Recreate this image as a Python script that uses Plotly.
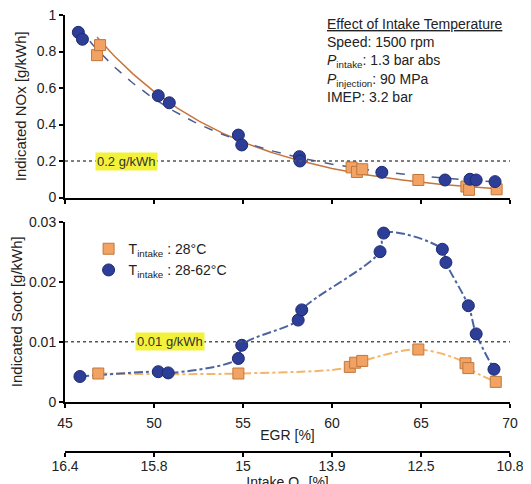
import numpy as np
import plotly.graph_objects as go

# ---------------- data ----------------
egr_ticks = [45, 50, 55, 60, 65, 70]
o2_ticklabels = ["16.4", "15.8", "15", "13.9", "12.5", "10.8"]

nox_egr_28 = [46.80, 46.97, 61.10, 61.40, 61.70, 64.85, 67.55, 67.70, 69.25]
nox_28 = [0.780, 0.835, 0.165, 0.140, 0.155, 0.096, 0.060, 0.042, 0.045]

nox_egr_var = [45.75, 45.98, 50.24, 50.86, 54.74, 54.93, 58.17, 58.20, 62.80, 66.35, 67.75, 68.10, 69.16]
nox_var = [0.905, 0.867, 0.558, 0.519, 0.342, 0.288, 0.224, 0.200, 0.138, 0.096, 0.100, 0.096, 0.087]

soot_egr_28 = [46.87, 54.74, 61.00, 61.30, 61.70, 64.85, 67.50, 67.66, 69.20]
soot_28 = [0.0047, 0.0047, 0.0058, 0.0065, 0.0068, 0.0087, 0.0064, 0.0056, 0.0033]

soot_egr_var = [45.84, 50.24, 50.80, 54.74, 54.93, 58.10, 58.30, 62.70, 62.90, 66.20, 66.40, 67.66, 68.10, 69.10]
soot_var = [0.0042, 0.0050, 0.0048, 0.0072, 0.0094, 0.0136, 0.0153, 0.0250, 0.0281, 0.0254, 0.0232, 0.0160, 0.0113, 0.0054]

nox_limit = 0.2
soot_limit = 0.01

# ---------------- styles ----------------
BLUE = "#2D3E98"
BLUE_EDGE = "#1E2A70"
ORANGE = "#F2A263"
ORANGE_EDGE = "#C0783C"
FONT = "Arial, Liberation Sans, sans-serif"


def log_trend(x, y, deg):
    """Polynomial trend fitted to log(y) - smooth decaying curve."""
    x = np.asarray(x, float)
    y = np.asarray(y, float)
    c = np.polyfit(x - 57.5, np.log(y), deg)
    xs = np.linspace(x.min(), x.max(), 200)
    return xs, np.exp(np.polyval(c, xs - 57.5))


fig = go.Figure()

# NOx trend lines
xs, ys = log_trend(nox_egr_28, nox_28, 1)
fig.add_trace(go.Scatter(x=xs, y=ys, mode="lines", line=dict(color="#C8743C", width=1.5),
                         showlegend=False, xaxis="x", yaxis="y", hoverinfo="skip"))
xs, ys = log_trend(nox_egr_var, nox_var, 2)
fig.add_trace(go.Scatter(x=xs, y=ys, mode="lines", line=dict(color="#4B5E8E", width=1.5, dash="dash"),
                         showlegend=False, xaxis="x", yaxis="y", hoverinfo="skip"))

# NOx markers
fig.add_trace(go.Scatter(x=nox_egr_28, y=nox_28, mode="markers",
                         marker=dict(symbol="square", size=11, color=ORANGE, line=dict(color=ORANGE_EDGE, width=1)),
                         showlegend=False, xaxis="x", yaxis="y"))
fig.add_trace(go.Scatter(x=nox_egr_var, y=nox_var, mode="markers",
                         marker=dict(symbol="circle", size=12, color=BLUE, line=dict(color=BLUE_EDGE, width=1)),
                         showlegend=False, xaxis="x", yaxis="y"))

# Soot trend lines (smooth spline through the measured points)
o28 = np.argsort(soot_egr_28)
fig.add_trace(go.Scatter(x=np.array(soot_egr_28)[o28], y=np.array(soot_28)[o28], mode="lines",
                         line=dict(color="#F5B66A", width=2, dash="dashdot", shape="spline", smoothing=1.0),
                         showlegend=False, xaxis="x2", yaxis="y2", hoverinfo="skip"))
ov = np.argsort(soot_egr_var)
fig.add_trace(go.Scatter(x=np.array(soot_egr_var)[ov], y=np.array(soot_var)[ov], mode="lines",
                         line=dict(color="#4A64A0", width=2, dash="dashdot", shape="spline", smoothing=1.0),
                         showlegend=False, xaxis="x2", yaxis="y2", hoverinfo="skip"))

# Soot markers (legend entries)
fig.add_trace(go.Scatter(x=soot_egr_28, y=soot_28, mode="markers", name="T<sub>intake</sub> : 28°C",
                         marker=dict(symbol="square", size=11, color=ORANGE, line=dict(color=ORANGE_EDGE, width=1)),
                         xaxis="x2", yaxis="y2"))
fig.add_trace(go.Scatter(x=soot_egr_var, y=soot_var, mode="markers", name="T<sub>intake</sub> : 28-62°C",
                         marker=dict(symbol="circle", size=12, color=BLUE, line=dict(color=BLUE_EDGE, width=1)),
                         xaxis="x2", yaxis="y2"))

# dummy trace for the intake O2 axis
fig.add_trace(go.Scatter(x=[egr_ticks[0], egr_ticks[-1]], y=[0, 0], mode="markers",
                         marker=dict(opacity=0), showlegend=False, hoverinfo="skip",
                         xaxis="x3", yaxis="y2"))

# Limit lines
for yref, xref, val in (("y", "x", nox_limit), ("y2", "x2", soot_limit)):
    fig.add_shape(type="line", xref=xref, yref=yref, x0=45, x1=70.1, y0=val, y1=val,
                  line=dict(color="#555555", width=1.6, dash="dot"))

axis_common = dict(showline=True, linecolor="black", linewidth=2, ticks="outside", ticklen=4,
                   tickwidth=1.5, tickcolor="black", showgrid=False, zeroline=False, automargin=False,
                   ticklabeloverflow="allow",
                   tickfont=dict(size=14, color="#222", family=FONT))

fig.update_layout(
    width=531, height=484,
    margin=dict(l=57, r=29, t=7, b=30),
    paper_bgcolor="white", plot_bgcolor="white",
    font=dict(family=FONT, color="#222"),
    xaxis=dict(domain=[0, 1], range=[45, 70], anchor="y", tickvals=egr_ticks, showticklabels=False,
               **axis_common),
    yaxis=dict(domain=[0.5917, 1], range=[0, 1], anchor="x", tickvals=[0, 0.2, 0.4, 0.6, 0.8, 1],
               ticktext=["0", "0.2", "0.4", "0.6", "0.8", "1"],
               title=dict(text="Indicated NOx [g/kWh]", font=dict(size=15), standoff=6), **axis_common),
    xaxis2=dict(domain=[0, 1], range=[45, 70], anchor="y2", tickvals=egr_ticks, ticklabelstandoff=4,
                title=dict(text="EGR [%]", font=dict(size=14), standoff=0), **axis_common),
    yaxis2=dict(domain=[0.1349, 0.5376], range=[0, 0.03], anchor="x2",
                tickvals=[0, 0.01, 0.02, 0.03], ticktext=["0", "0.01", "0.02", "0.03"],
                title=dict(text="Indicated Soot [g/kWh]", font=dict(size=15), standoff=6), **axis_common),
    xaxis3=dict(range=[45, 70], anchor="free", position=0.0224, overlaying="x2", side="bottom",
                tickvals=egr_ticks, ticktext=o2_ticklabels, ticklabelstandoff=-3,
                title=dict(text="Intake O<sub>2</sub> [%]", font=dict(size=14), standoff=2), **axis_common),
    legend=dict(x=0.053, y=0.512, xanchor="left", yanchor="top", bgcolor="rgba(0,0,0,0)",
                font=dict(size=14, color="#222"), itemwidth=30, tracegroupgap=0),
    showlegend=True,
)

# Limit labels
fig.add_annotation(x=48.45, y=nox_limit, xref="x", yref="y", text="0.2 g/kWh", showarrow=False,
                   bgcolor="#F3F23A", font=dict(size=13, color="#333"), borderpad=1)
fig.add_annotation(x=50.9, y=soot_limit, xref="x2", yref="y2", text="0.01 g/kWh", showarrow=False,
                   bgcolor="#F3F23A", font=dict(size=13, color="#333"), borderpad=1)

# Conditions block
info = ("<u>Effect of Intake Temperature</u><br>Speed: 1500 rpm<br>"
        "<i>P</i><sub>intake</sub>: 1.3 bar abs<br><i>P</i><sub>injection</sub>: 90 MPa<br>IMEP: 3.2 bar")
fig.add_annotation(x=0.584, y=1.002, xref="paper", yref="paper", xanchor="left", yanchor="top",
                   text=info, showarrow=False, align="left", font=dict(size=14, color="#222"))

fig.write_html("out.html")
